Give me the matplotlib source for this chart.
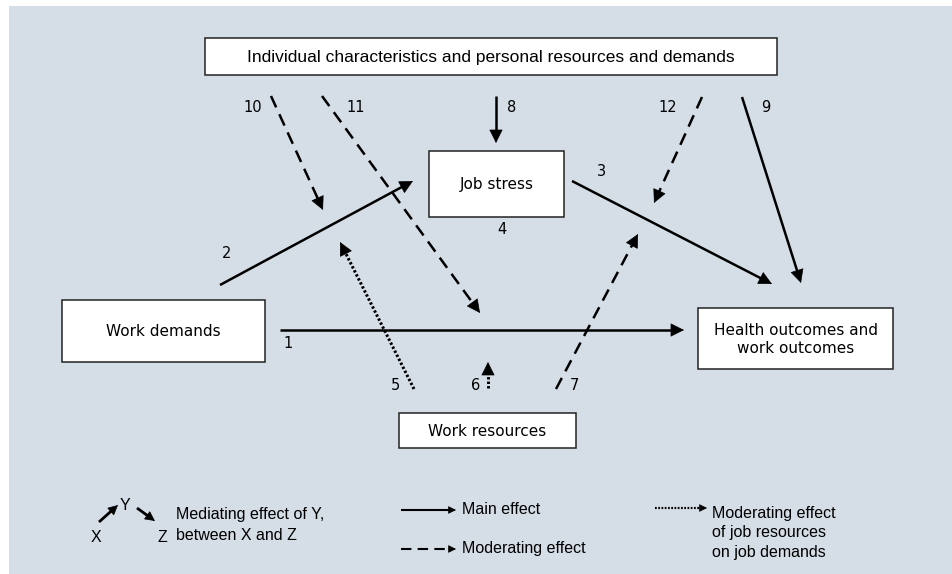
import matplotlib
matplotlib.use('Agg')
import matplotlib.pyplot as plt
from matplotlib.patches import Rectangle
import numpy as np

W, H = 952, 574
BG = '#d5dde6'

# boxes: label, (x0, y0, x1, y1) in pixel coords
box_labels = ['Individual characteristics and personal resources and demands',
              'Job stress', 'Work demands', 'Health outcomes and\nwork outcomes',
              'Work resources']
box_pos = [(205, 38, 777, 75), (429, 151, 564, 217), (62, 300, 265, 362),
           (698, 308, 893, 369), (399, 413, 576, 448)]

# paths: number, style, start, tip
path_nums = ['1', '2', '3', '4', '5', '6', '7', '8', '9', '10', '11', '12']
path_style = ['solid', 'solid', 'solid', None, 'dotted', 'dotted', 'dashed',
              'solid', 'solid', 'dashed', 'dashed', 'dashed']
path_start = [(280, 330), (220, 285), (572, 181), None, (414, 389), (488, 388),
              (556, 389), (496, 96), (742, 97), (271, 96), (322, 96), (702, 97)]
path_tip = [(684, 330), (413, 181), (772, 284), None, (340, 242), (488, 362),
            (638, 234), (496, 143), (801, 283), (323, 210), (480, 313), (654, 203)]
num_pos = [(288, 344), (227, 254), (602, 171), (502, 230), (395, 386), (476, 386),
           (574, 386), (512, 107), (766, 107), (253, 107), (356, 107), (668, 107)]

legend_texts = ['Mediating effect of Y,\nbetween X and Z', 'Main effect',
                'Moderating effect', 'Moderating effect\nof job resources\non job demands']

NUM_FONT = ['DejaVu Sans']
NARROW = ['Liberation Sans', 'DejaVu Sans']

fig = plt.figure(figsize=(W / 100, H / 100), dpi=100)
ax = fig.add_axes([0, 0, 1, 1])
ax.set_xlim(0, W)
ax.set_ylim(H, 0)
ax.axis('off')

ax.add_patch(Rectangle((9, 6), W - 9, H - 6, facecolor=BG, edgecolor='none', zorder=0))

styles = {'solid': '-', 'dashed': (0, (5, 3)), 'dotted': (0, (0.8, 0.7))}


def arrow(p0, p1, style, lw=1.8, ms=22):
    p0 = np.array(p0, float)
    p1 = np.array(p1, float)
    u = (p1 - p0) / np.hypot(*(p1 - p0))
    hl = 0.4 * ms * 100 / 72  # head length in px
    base = p1 - u * hl
    if style == 'dotted':
        lw = lw * 1.2
    ax.plot([p0[0], base[0] + u[0] * 2], [p0[1], base[1] + u[1] * 2],
            color='black', lw=lw, linestyle=styles[style],
            solid_capstyle='butt', dash_capstyle='butt', zorder=3)
    ax.annotate('', xy=p1, xytext=base,
                arrowprops=dict(arrowstyle='-|>', mutation_scale=ms, lw=0.5,
                                color='black', shrinkA=0, shrinkB=0), zorder=4)


for lab, (x0, y0, x1, y1) in zip(box_labels, box_pos):
    ax.add_patch(Rectangle((x0, y0), x1 - x0, y1 - y0, facecolor='white',
                           edgecolor='#222222', lw=1.1, zorder=2))
    if lab.startswith('Individual'):
        ax.text((x0 + x1) / 2, (y0 + y1) / 2 + 1, lab, ha='center', va='center',
                fontsize=12.5, family=NARROW, zorder=5)
    else:
        ax.text((x0 + x1) / 2, (y0 + y1) / 2 + 1, lab, ha='center', va='center',
                fontsize=11, family=NUM_FONT, linespacing=1.25, zorder=5)

for n, st, s, t, pos in zip(path_nums, path_style, path_start, path_tip, num_pos):
    if st is not None:
        arrow(s, t, st)
    ax.text(pos[0], pos[1], n, ha='center', va='center', fontsize=10.5,
            family=NUM_FONT, zorder=5)

# legend
arrow((99, 522), (118, 505), 'solid', lw=2.0, ms=16)
arrow((137, 508), (155, 521), 'solid', lw=2.0, ms=16)
ax.text(96, 538, 'X', ha='center', va='center', fontsize=11.5, family=NARROW)
ax.text(125, 506, 'Y', ha='center', va='center', fontsize=11.5, family=NARROW)
ax.text(162, 538, 'Z', ha='center', va='center', fontsize=11.5, family=NARROW)
ax.text(176, 525, legend_texts[0], ha='left', va='center', fontsize=11.5,
        family=NARROW, linespacing=1.5)

arrow((401, 510), (456, 510), 'solid', lw=1.5, ms=12)
ax.text(462, 510, legend_texts[1], ha='left', va='center', fontsize=11.5, family=NARROW)
arrow((401, 549), (456, 549), 'dashed', lw=1.5, ms=12)
ax.text(462, 549, legend_texts[2], ha='left', va='center', fontsize=11.5, family=NARROW)
arrow((655, 508), (707, 508), 'dotted', lw=1.3, ms=12)
ax.text(712, 533, legend_texts[3], ha='left', va='center', fontsize=11.5,
        family=NARROW, linespacing=1.4)

fig.savefig('out.png', dpi=100, facecolor='white')
